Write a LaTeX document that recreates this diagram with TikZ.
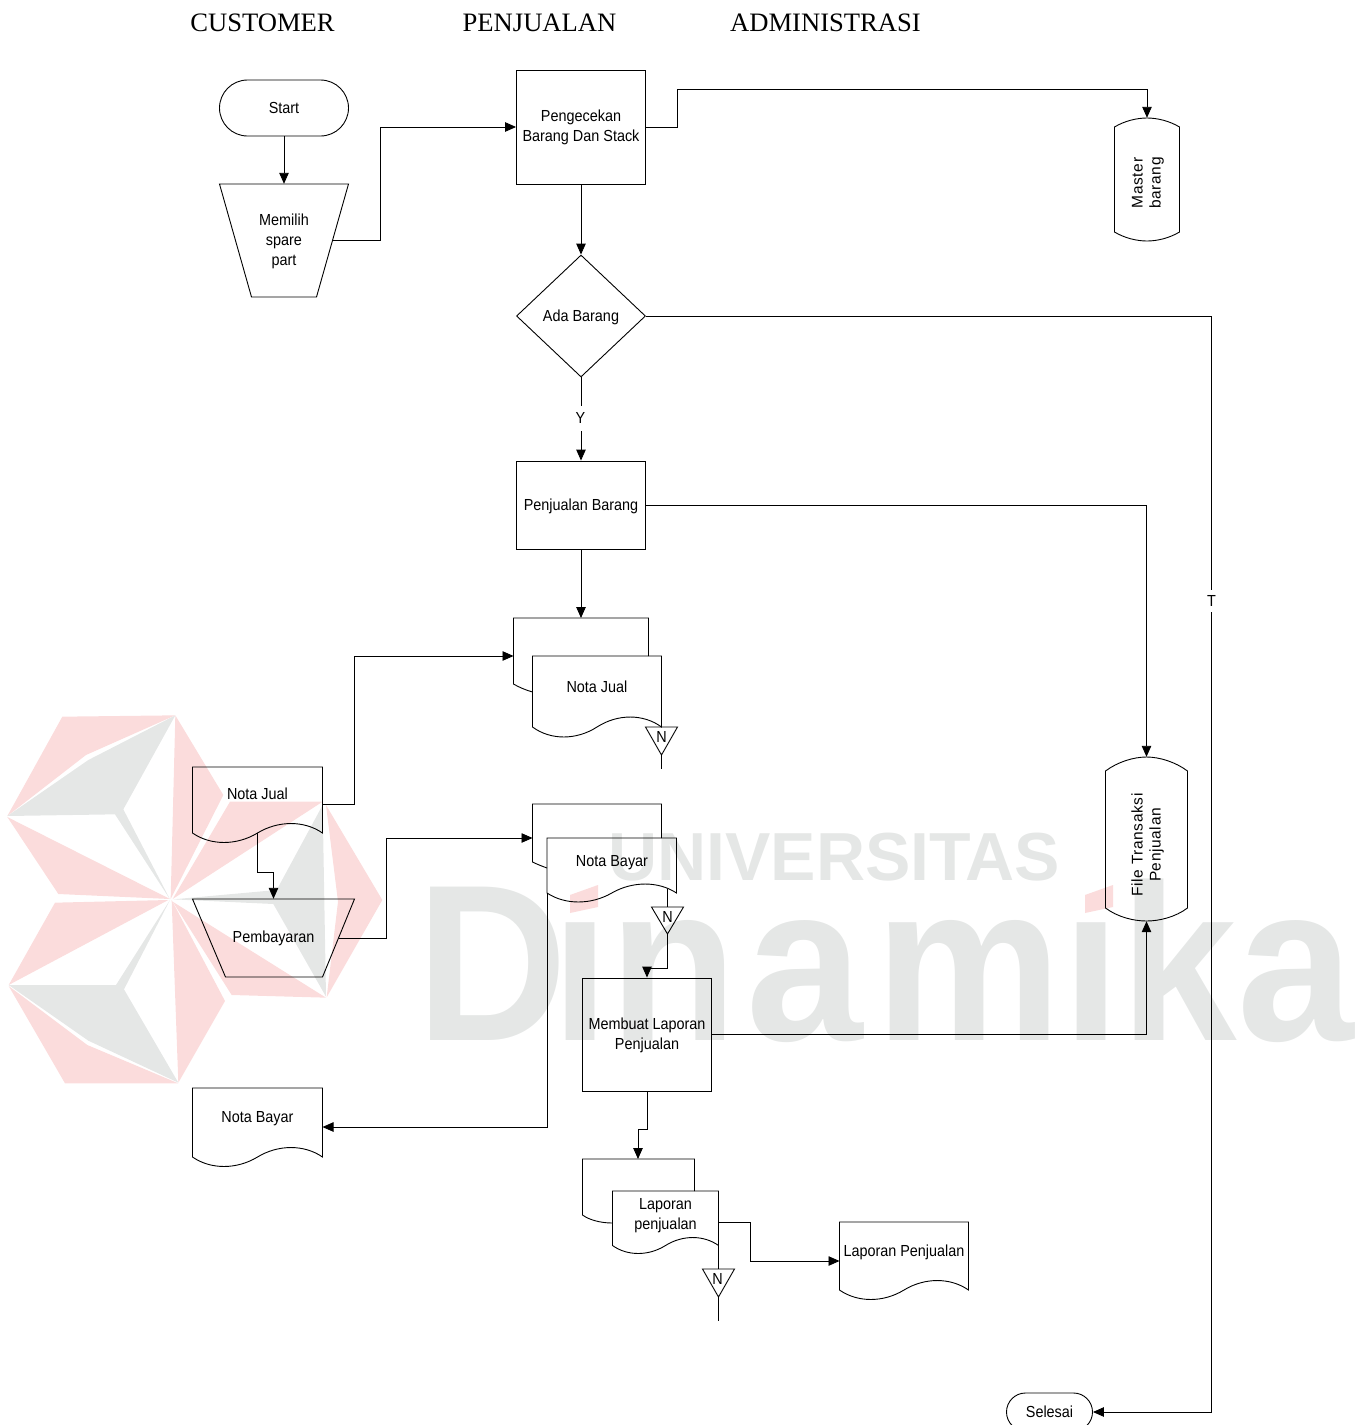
\documentclass[tikz,border=0pt]{standalone}
\usepackage{fontspec}
\setmainfont{Liberation Sans}
\newfontfamily\serifhead{Liberation Serif}
\newfontfamily\lblfont[FakeStretch=0.9]{Liberation Sans}
\newfontfamily\rotfont[LetterSpace=4]{Liberation Sans}
\usetikzlibrary{arrows.meta,shapes.geometric}
\definecolor{wmpink}{HTML}{FBDCDC}
\definecolor{wmgrey}{HTML}{E5E7E6}
\tikzset{
  line/.style={draw=black,line width=0.9pt},
  conn/.style={line,-{Triangle[length=11pt,width=9.5pt]}},
  plain/.style={line},
  lbl/.style={font=\lblfont\fontsize{16}{20}\selectfont,align=center,inner sep=0pt,text=black},
  rotlbl/.style={font=\rotfont\fontsize{15.5}{18}\selectfont,align=center,inner sep=0pt,text=black,rotate=90},
  boxnode/.style={line,lbl,rectangle,minimum width=#1,anchor=center},
  head/.style={font=\serifhead\fontsize{26.6}{30}\selectfont,inner sep=0pt},
  tag/.style={lbl,fill=white,inner sep=1pt,minimum height=#1},
}
\newcommand{\docwave}[5]{% x1 x2 ytop ybot amp
  \pgfmathsetmacro{\wvA}{#1+0.14*(#2-#1)}\pgfmathsetmacro{\wvB}{#1+0.34*(#2-#1)}%
  \pgfmathsetmacro{\wvM}{#1+0.5*(#2-#1)}\pgfmathsetmacro{\wvC}{#1+0.66*(#2-#1)}%
  \pgfmathsetmacro{\wvD}{#1+0.86*(#2-#1)}\pgfmathsetmacro{\wvU}{#4+1.33*#5}\pgfmathsetmacro{\wvE}{#4-1.33*#5}%
  \draw[line,line join=miter] (#1,#3) -- (#2,#3) -- (#2,#4) .. controls (\wvD,\wvE) and (\wvC,\wvE) .. (\wvM,#4) .. controls (\wvB,\wvU) and (\wvA,\wvU) .. (#1,#4) -- cycle;}
\newcommand{\offpage}[3]{% x ytop yapex
  \draw[line] (#1-16,#2) -- (#1+16,#2) -- (#1,#3) -- cycle;}
\begin{document}
\begin{tikzpicture}[x=1pt,y=-1pt]
\clip (0,0) rectangle (1363,1425);
% watermark
\begin{scope}[shift={(0,700)},x=0.33333pt,y=-0.33333pt]
\fill[wmpink] (187,50) -- (526,46) -- (258,165) -- (22,348) -- cycle;
\fill[wmpink] (22,351) -- (510,597) -- (175,582) -- cycle;
\fill[wmpink] (526,46) -- (670,285) -- (512,597) -- cycle;
\fill[wmpink] (165,608) -- (505,600) -- (26,855) -- cycle;
\fill[wmpink] (26,858) -- (262,1035) -- (535,1150) -- (195,1150) -- cycle;
\fill[wmpink] (515,600) -- (675,903) -- (535,1148) -- cycle;
\fill[wmpink] (690,305) -- (968,305) -- (518,597) -- cycle;
\fill[wmpink] (978,315) -- (1147,600) -- (980,892) -- (1014,605) -- cycle;
\fill[wmpink] (518,605) -- (978,893) -- (695,885) -- cycle;
\fill[wmgrey] (526,46) -- (370,328) -- (510,598) -- (345,343) -- (22,348) -- (265,180) -- cycle;
\fill[wmgrey] (26,855) -- (348,855) -- (510,600) -- (372,868) -- (535,1148) -- (265,1022) -- cycle;
\fill[wmgrey] (968,315) -- (830,570) -- (520,598) -- (820,612) -- (978,890) -- cycle;
\end{scope}
\node[anchor=base west,inner sep=0pt,text=wmgrey,font=\bfseries\fontsize{68}{68}\selectfont] (wmu) at (608,880) {UNIVERSITAS};
\node[anchor=base west,inner sep=0pt,text=wmgrey,font=\bfseries\fontsize{223}{223}\selectfont,xscale=0.94,transform shape] (wmd) at (416,1040) {D\kern-17pt in\kern9pt a\kern14pt mika};
\fill[white] (560,868) rectangle (612,915);
\fill[white] (1072,868) rectangle (1126,915);
\fill[wmpink] (570,895) -- (598,885) -- (598,907) -- (570,913) -- cycle;
\fill[wmpink] (1085,895) -- (1113,885) -- (1113,907) -- (1085,913) -- cycle;
\begin{scope}[xshift=-0.5pt]
% headers
\node[head] (hc) at (263,23) {CUSTOMER};
\node[head] (hp) at (540,23) {PENJUALAN};
\node[head] (ha) at (826,23) {ADMINISTRASI};
% process nodes
\node[boxnode=129pt,minimum height=56pt,rounded corners=28pt] (start) at (284.5,108) {Start};
\node[lbl,minimum width=97pt,minimum height=113pt] (memilih) at (284.5,240.5) {};
\node[lbl] (memiliht) at (284.5,241) {Memilih\\spare\\part};
\draw[line] (220,184) -- (349,184) -- (317,297) -- (252,297) -- cycle;
\node[boxnode=129pt,minimum height=114pt] (cek) at (581.5,127) {Pengecekan\\Barang Dan Stack};
\node[line,lbl,shape=diamond,aspect=1.057,minimum width=129pt,minimum height=122pt] (ada) at (581.5,316) {};
\node[lbl] (adat) at (581.5,317) {Ada Barang};
\node[boxnode=129pt,minimum height=88pt] (pjl) at (581.5,505) {};
\node[lbl] (pjlt) at (581.5,506) {Penjualan Barang};
\node[boxnode=129pt,minimum height=113pt] (lap) at (647.5,1034.5) {};
\node[lbl] (lapt) at (647.5,1035) {Membuat Laporan\\Penjualan};
\node[boxnode=86pt,minimum height=38pt,rounded corners=19pt] (selesai) at (1050,1412) {Selesai};
% Master barang
\node[rotlbl,minimum width=123pt,minimum height=65pt] (master) at (1147.5,179.5) {};
\node[rotlbl] (mastert) at (1148.5,183) {Master\\barang};
\draw[line] (1115,127) .. controls (1125,121) and (1137,118) .. (1147.5,118) .. controls (1158,118) and (1170,121) .. (1180,127) -- (1180,232) .. controls (1170,238) and (1158,241) .. (1147.5,241) .. controls (1137,241) and (1125,238) .. (1115,232) -- cycle;
% File Transaksi
\node[rotlbl,minimum width=164pt,minimum height=82pt] (file) at (1147,839) {};
\node[rotlbl] (filet) at (1148,845) {File Transaksi\\Penjualan};
\draw[line] (1106,771) .. controls (1118,762) and (1134,757) .. (1147,757) .. controls (1160,757) and (1176,762) .. (1188,771) -- (1188,908) .. controls (1176,917) and (1160,921) .. (1147,921) .. controls (1134,921) and (1118,917) .. (1106,908) -- cycle;
% Pembayaran
\node[lbl,minimum width=130pt,minimum height=78pt] (bayar) at (274,938) {Pembayaran};
\draw[line] (193,899) -- (355,899) -- (323,977) -- (226,977) -- cycle;
% documents
\docwave{193}{323}{767}{833}{9.5}
\node[lbl] (njl) at (258,794) {Nota Jual};
\coordinate (njlr) at (323,804);
\coordinate (njlb) at (258,833);
\docwave{193}{323}{1088}{1157}{9.5}
\node[lbl] (nbl) at (258,1119) {Nota Bayar};
\coordinate (nbli) at (323,1127);
\docwave{840}{969}{1222}{1290}{9.5}
\node[lbl] (lpd) at (904.5,1252) {Laporan Penjualan};
\coordinate (lpdi) at (840,1261);
% stacked documents
\draw[line] (533,692) .. controls (526,690) and (519,687) .. (514,684) -- (514,618) -- (649,618) -- (649,656);
\coordinate (s1t) at (581.5,618);
\coordinate (s1l) at (514,656);
\docwave{533}{662}{656}{727}{10}
\node[lbl] (nj2) at (597.5,687) {Nota Jual};
\draw[line] (547.5,868) .. controls (542,866) and (537,864) .. (533,862) -- (533,804) -- (662,804) -- (662,838);
\coordinate (s2l) at (533,838);
\docwave{547.5}{677}{838}{893}{9}
\node[lbl] (nb2) at (612.5,863) {Nota Bayar};
\draw[line] (613,1223) .. controls (601,1223) and (590,1220) .. (583,1215) -- (583,1159) -- (695,1159) -- (695,1191);
\coordinate (s3t) at (638.5,1159);
\docwave{613}{719}{1191}{1245.5}{8}
\node[lbl] (lp2) at (666,1216) {Laporan\\penjualan};
% off-page N
\offpage{662}{727}{755}
\node[lbl] (n1) at (662,737) {N};
\coordinate (n1a) at (662,755);
\coordinate (n1e) at (662,769);
\offpage{668}{907}{934}
\node[lbl] (n2) at (668,917) {N};
\coordinate (n2t) at (668,889);
\coordinate (n2tt) at (668,907);
\coordinate (n2a) at (668,934);
\offpage{719}{1269}{1297}
\node[lbl] (n3) at (718,1279) {N};
\coordinate (n3t) at (719,1245.5);
\coordinate (n3tt) at (719,1269);
\coordinate (n3a) at (719,1297);
\coordinate (n3e) at (719,1321);
% connectors
\draw[conn] (start.south) -- (memilih.north);
\draw[conn] (memilih.east) -- (381,240.5) -- (381,127) -- (cek.west);
\draw[conn] (cek.east) -- (678,127) -- (678,89) -- (1147.5,89) -- (master.east);
\draw[conn] (cek.south) -- (ada.north);
\draw[conn] (ada.south) -- (pjl.north);
\node[tag=25pt] (y) at (581,418) {Y};
\draw[plain] (ada.east) -- (1212,316) -- (1212,601);
\draw[conn] (1212,601) -- (1212,1412) -- (selesai.east);
\node[tag=22pt] (t) at (1212,601) {T};
\draw[conn] (pjl.south) -- (s1t);
\draw[conn] (pjl.east) -- (1147,505) -- (file.east);
\draw[conn] (njlr) -- (355,804) -- (355,656) -- (s1l);
\draw[conn] (njlb) -- (258,872) -- (274,872) -- (bayar.north);
\draw[conn] (bayar.east) -- (387,938) -- (387,838) -- (s2l);
\draw[conn] (547.5,893) -- (547.5,1127) -- (nbli);
\draw[plain] (n1a) -- (n1e);
\draw[plain] (n2t) -- (n2tt);
\draw[conn] (n2a) -- (668,968) -- (647.5,968) -- (lap.north);
\draw[conn] (lap.east) -- (1147,1034.5) -- (file.west);
\draw[conn] (lap.south) -- (647.5,1129) -- (638.5,1129) -- (s3t);
\draw[plain] (n3t) -- (n3tt);
\draw[plain] (n3a) -- (n3e);
\draw[conn] (719,1222) -- (751,1222) -- (751,1261) -- (lpdi);
\end{scope}
\end{tikzpicture}
\end{document}
